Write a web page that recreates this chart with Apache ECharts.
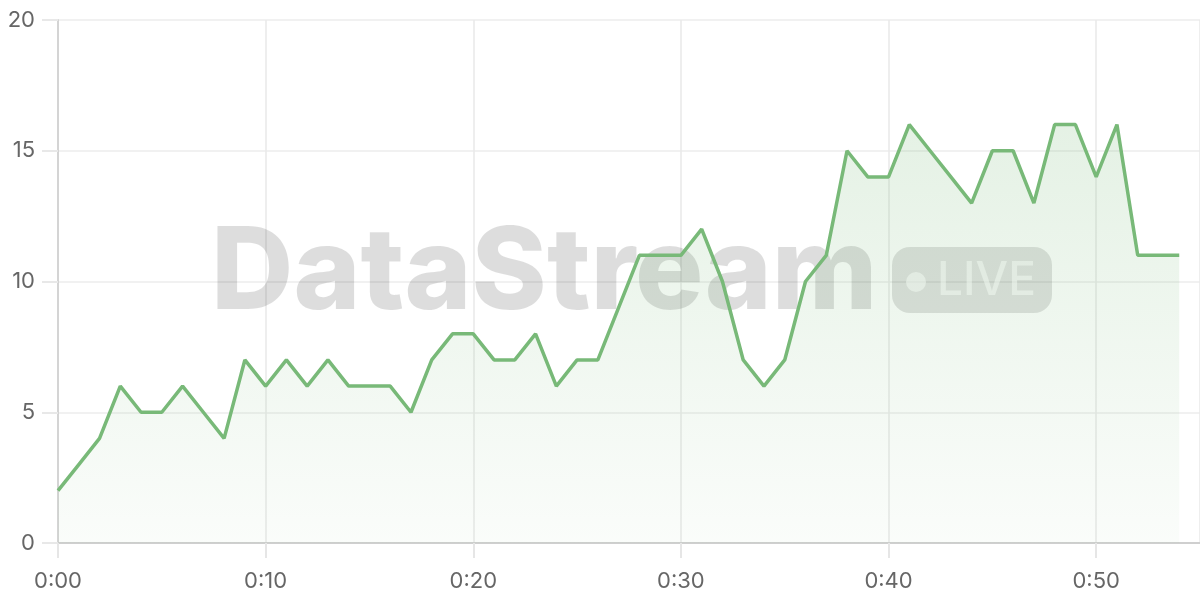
<!DOCTYPE html>
<html><head><meta charset="utf-8">
<script src="https://cdn.jsdelivr.net/npm/echarts@6/dist/echarts.min.js"></script>
<style>html,body{margin:0;padding:0;background:#fff}#c{width:1200px;height:600px}</style>
</head><body><div id="c"></div>
<script>
// minutes since start
const minutes = [0,1,2,3,4,5,6,7,8,9,10,11,12,13,14,15,16,17,18,19,20,21,22,23,24,25,26,27,28,29,30,31,32,33,34,35,36,37,38,39,40,41,42,43,44,45,46,47,48,49,50,51,52,53,54];
const values  = [2,3,4,6,5,5,6,5,4,7,6,7,6,7,6,6,6,5,7,8,8,7,7,8,6,7,7,9,11,11,11,12,10,7,6,7,10,11,15,14,14,16,15,14,13,15,15,13,16,16,14,16,11,11,11];
const yTicks = [0,5,10,15,20];
const xTicks = [0,10,20,30,40,50];
const watermarkText = 'DataStream';
const badgeText = 'LIVE';

const fmt = v => Math.floor(v/60) + ':' + String(v % 60).padStart(2,'0');
const chart = echarts.init(document.getElementById('c'));
const FONT = 'Inter';
chart.setOption({
  animation: false,
  backgroundColor: '#fff',
  grid: { left: 58, right: 0, top: 20, bottom: 57 },
  xAxis: {
    type: 'value', min: xTicks[0], max: 55, interval: 10,
    axisLine: { show: true, lineStyle: { color: '#cfcfcf', width: 2 } },
    axisTick: { show: true, length: 15, lineStyle: { color: '#e6e6e6', width: 2 } },
    splitLine: { show: true, lineStyle: { color: '#e8e8e8', width: 1.5 } },
    axisLabel: { showMaxLabel: false, formatter: fmt, fontSize: 22, color: '#666', margin: 27, fontFamily: FONT }
  },
  yAxis: {
    type: 'value', min: yTicks[0], max: yTicks[yTicks.length-1], interval: 5,
    axisLine: { show: true, lineStyle: { color: '#d4d4d4', width: 2 } },
    axisTick: { show: true, length: 16, lineStyle: { color: '#e8e8e8', width: 2 } },
    splitLine: { show: true, lineStyle: { color: '#ececec', width: 1.5 } },
    axisLabel: { fontSize: 22, color: '#666', margin: 23, fontFamily: FONT }
  },
  graphic: [
    { type: 'text', z: 1, x: 211, y: 275,
      style: { text: watermarkText, font: '800 114px Inter', fill: 'rgba(0,0,0,0.135)', verticalAlign: 'middle' } },
    { type: 'rect', z: 1, shape: { x: 892, y: 247, width: 160, height: 66, r: 18 },
      style: { fill: 'rgba(0,0,0,0.12)' } },
    { type: 'circle', z: 1, shape: { cx: 916, cy: 282, r: 10 },
      style: { fill: 'rgba(255,255,255,0.6)' } },
    { type: 'text', z: 1, x: 937, y: 281,
      style: { text: badgeText, font: '500 46px Inter', fill: 'rgba(255,255,255,0.6)', verticalAlign: 'middle' } }
  ],
  series: [{
    type: 'line', z: 3,
    data: minutes.map((m,i) => [m, values[i]]),
    symbol: 'none',
    lineStyle: { color: '#78b978', width: 3.5 },
    areaStyle: {
      color: new echarts.graphic.LinearGradient(0,0,0,1,[
        { offset: 0, color: 'rgba(120,185,120,0.28)' },
        { offset: 1, color: 'rgba(120,185,120,0.05)' }
      ])
    }
  }]
});
</script>
</body></html>
